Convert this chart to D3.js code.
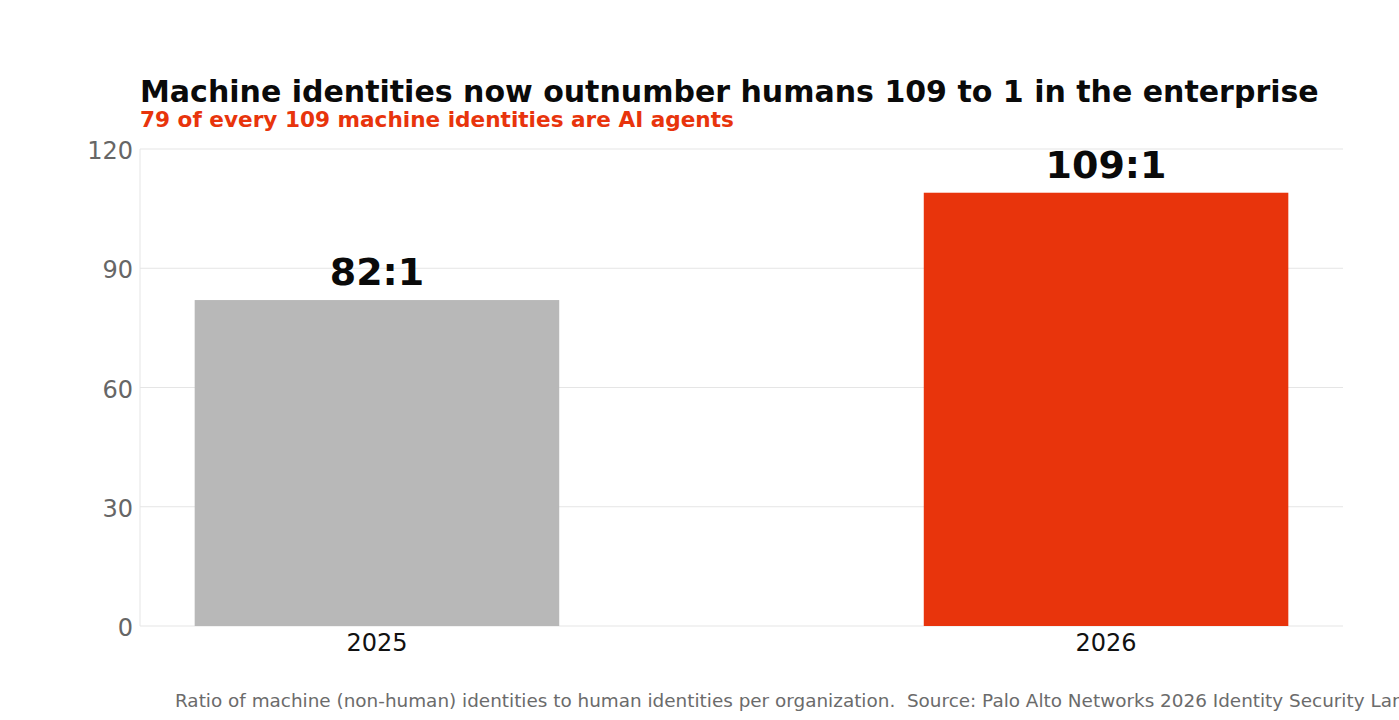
<!DOCTYPE html>
<html>
<head>
<meta charset="utf-8">
<script src="https://cdn.jsdelivr.net/npm/d3@7"></script>
<style>
    body { margin: 0; background: #fff; }
    svg { font-family: "DejaVu Sans", sans-serif; display: block; }
</style>
</head>
<body>
<div id="chart"></div>
<script>
const years = ["2025", "2026"];
const ratios = [82, 109];
const ratioLabels = ["82:1", "109:1"];
const barColors = ["#b8b8b8", "#e8340c"];
const yTicks = [0, 30, 60, 90, 120];

const width = 1399, height = 720;
const margin = { top: 149, right: 56, bottom: 94, left: 140 };

const svg = d3.select("#chart")
    .append("svg")
    .attr("width", width)
    .attr("height", height);

const x = d3.scaleBand()
    .domain(years)
    .range([margin.left, width - margin.right])
    .paddingInner(0.5)
    .paddingOuter(0.075);

const y = d3.scaleLinear()
    .domain([0, 120])
    .range([height - margin.bottom, margin.top]);

// gridlines
svg.append("g")
    .selectAll("line")
    .data(yTicks)
    .enter().append("line")
    .attr("x1", margin.left)
    .attr("x2", width - margin.right)
    .attr("y1", d => y(d))
    .attr("y2", d => y(d))
    .attr("stroke", "#e5e5e5")
    .attr("stroke-width", 1);

// left spine
svg.append("line")
    .attr("x1", margin.left).attr("x2", margin.left)
    .attr("y1", y(120)).attr("y2", y(0))
    .attr("stroke", "#e5e5e5");

// y axis
const yAxis = svg.append("g")
    .attr("transform", `translate(${margin.left},0)`)
    .call(d3.axisLeft(y).tickValues(yTicks).tickSize(0).tickPadding(7));
yAxis.select(".domain").remove();
yAxis.selectAll("text")
    .attr("dy", "0.4em")
    .attr("font-size", 24)
    .attr("font-family", "DejaVu Sans")
    .attr("fill", "#666");

// x axis
const xAxis = svg.append("g")
    .attr("transform", `translate(0,${y(0)})`)
    .call(d3.axisBottom(x).tickSize(0).tickPadding(8));
xAxis.select(".domain").remove();
xAxis.selectAll("text")
    .attr("font-size", 24)
    .attr("font-family", "DejaVu Sans")
    .attr("fill", "#111");

// bars
svg.append("g")
    .selectAll("rect")
    .data(years)
    .enter().append("rect")
    .attr("x", d => x(d))
    .attr("width", x.bandwidth())
    .attr("y", (d, i) => y(ratios[i]))
    .attr("height", (d, i) => y(0) - y(ratios[i]))
    .attr("fill", (d, i) => barColors[i]);

// value labels
svg.append("g")
    .selectAll("text")
    .data(years)
    .enter().append("text")
    .attr("x", d => x(d) + x.bandwidth() / 2)
    .attr("y", (d, i) => y(ratios[i]) - 15)
    .attr("text-anchor", "middle")
    .attr("font-size", 38)
    .attr("font-weight", "bold")
    .attr("fill", "#0a0a0a")
    .text((d, i) => ratioLabels[i]);

// title + subtitle
svg.append("text")
    .attr("x", margin.left)
    .attr("y", 102)
    .attr("font-size", 30)
    .attr("font-weight", "bold")
    .attr("fill", "#0a0a0a")
    .text("Machine identities now outnumber humans 109 to 1 in the enterprise");

svg.append("text")
    .attr("x", margin.left)
    .attr("y", 127)
    .attr("font-size", 21.6)
    .attr("font-weight", "bold")
    .attr("fill", "#e8340c")
    .text("79 of every 109 machine identities are AI agents");

// footer (runs past the right edge, as in the source image)
svg.append("text")
    .attr("x", 175)
    .attr("y", 707)
    .attr("font-size", 18.4)
    .attr("fill", "#6b6b6b")
    .style("white-space", "pre")
    .text("Ratio of machine (non-human) identities to human identities per organization.  Source: Palo Alto Networks 2026 Identity Security Landscape");
</script>
</body>
</html>
